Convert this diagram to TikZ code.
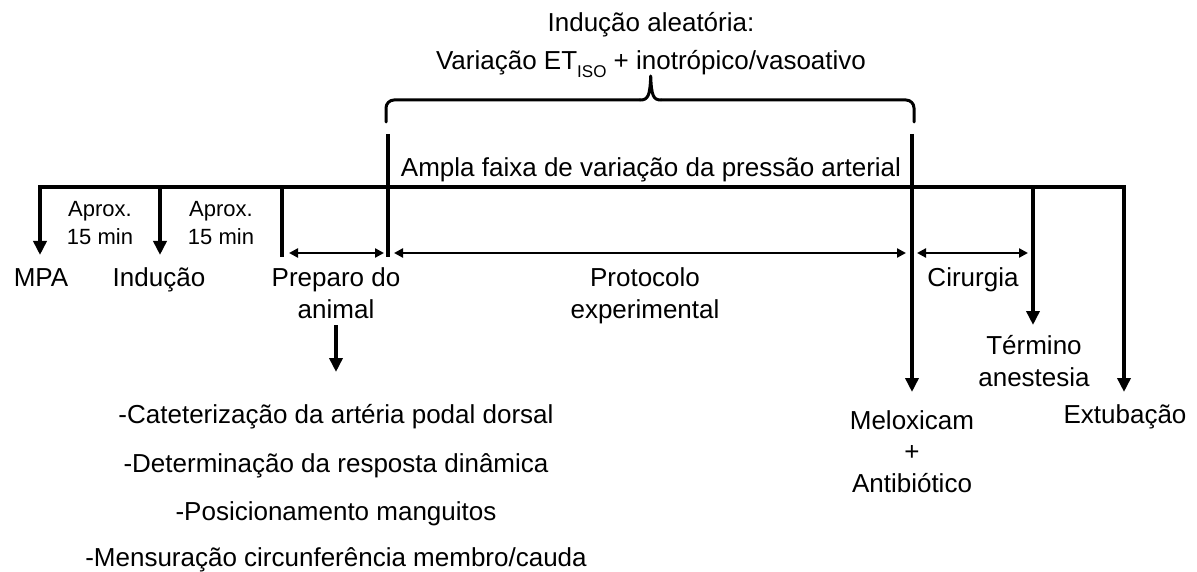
\documentclass[tikz,border=0pt]{standalone}
\usepackage{fontspec}
\setmainfont{Liberation Sans}
\usetikzlibrary{arrows.meta}
\begin{document}
\begin{tikzpicture}[x=1pt,y=-1pt,
  lbl/.style={anchor=base,inner sep=0pt,font=\fontsize{26}{32}\selectfont},
  smalllbl/.style={anchor=base,inner sep=0pt,font=\fontsize{22}{26}\selectfont},
  timeline/.style={line width=4pt,line join=miter},
  bigarrow/.style={line width=4pt,-{Triangle[width=13pt,length=14pt]}},
  spanarrow/.style={line width=2.5pt,{Triangle[width=9pt,length=9pt]}-{Triangle[width=9pt,length=9pt]}},
  bracepath/.style={line width=3pt,line join=round,line cap=round}]
\useasboundingbox (0,0) rectangle (1197,572);

% coordinates of the timeline
\coordinate (mpaTip) at (40,255);
\coordinate (start) at (40,187);
\coordinate (stop) at (1124,187);
\coordinate (extTip) at (1124,392);
\coordinate (indTop) at (160,187);
\coordinate (indTip) at (160,255);
\coordinate (prepTop) at (282,187);
\coordinate (prepBot) at (282,257);
\coordinate (barLtop) at (388,134);
\coordinate (barLbot) at (388,257);
\coordinate (barRtop) at (912,134);
\coordinate (barRtip) at (912,392);
\coordinate (termTop) at (1033,187);
\coordinate (termTip) at (1033,325);
\coordinate (animTop) at (336,325);
\coordinate (animTip) at (336,372);

% main line with end arrows
\draw[timeline,{Triangle[width=13pt,length=14pt]}-{Triangle[width=13pt,length=14pt]}]
  (mpaTip) -- (start) -- (stop) -- (extTip);
\draw[bigarrow] (indTop) -- (indTip);
\draw[timeline] (prepTop) -- (prepBot);
\draw[timeline] (barLtop) -- (barLbot);
\draw[bigarrow] (barRtop) -- (barRtip);
\draw[bigarrow] (termTop) -- (termTip);
\draw[bigarrow] (animTop) -- (animTip);

% span arrows
\coordinate (s1a) at (289,253); \coordinate (s1b) at (384,253);
\coordinate (s2a) at (394,253); \coordinate (s2b) at (906,253);
\coordinate (s3a) at (917,253); \coordinate (s3b) at (1028,253);
\draw[spanarrow] (s1a) -- (s1b);
\draw[spanarrow] (s2a) -- (s2b);
\draw[spanarrow] (s3a) -- (s3b);

% brace
\draw[bracepath,rounded corners=8pt] (386,122) -- (386,100) -- (640,100);
\draw[bracepath] (640,100) .. controls (648,100) and (650,96) .. (650.7,76)
  .. controls (651.4,96) and (653.4,100) .. (661,100);
\draw[bracepath,rounded corners=8pt] (661,100) -- (914,100) -- (914,122);

% texts
\node[lbl] (ind1) at (651,32) {Indução aleatória:};
\node[lbl] (ind2) at (651,70) {Variação ET\raisebox{-0.28em}{\fontsize{17}{17}\selectfont ISO} + inotrópico/vasoativo};
\node[lbl] (ampla) at (651,177) {Ampla faixa de variação da pressão arterial};

\node[smalllbl] (ap1) at (100,217) {Aprox.};
\node[smalllbl] (ap1b) at (100,244) {15 min};
\node[smalllbl] (ap2) at (221,217) {Aprox.};
\node[smalllbl] (ap2b) at (221,244) {15 min};

\node[lbl] (mpa) at (41,286) {MPA};
\node[lbl] (ind) at (159,286) {Indução};
\node[lbl] (prep) at (336,286) {Preparo do};
\node[lbl] (prepb) at (336,318) {animal};
\node[lbl] (prot) at (645,286) {Protocolo};
\node[lbl] (protb) at (645,318) {experimental};
\node[lbl] (cir) at (973,286) {Cirurgia};
\node[lbl] (term) at (1034,354) {Término};
\node[lbl] (termb) at (1034,386) {anestesia};
\node[lbl] (melo) at (912,429) {Meloxicam};
\node[lbl] (plus) at (912,460) {+};
\node[lbl] (anti) at (912,492) {Antibiótico};
\node[lbl] (ext) at (1125,423) {Extubação};

\node[lbl] (l1) at (336,423) {-Cateterização da artéria podal dorsal};
\node[lbl] (l2) at (336,472) {-Determinação da resposta dinâmica};
\node[lbl] (l3) at (336,520) {-Posicionamento manguitos};
\node[lbl] (l4) at (336,566) {-Mensuração circunferência membro/cauda};
\end{tikzpicture}
\end{document}
